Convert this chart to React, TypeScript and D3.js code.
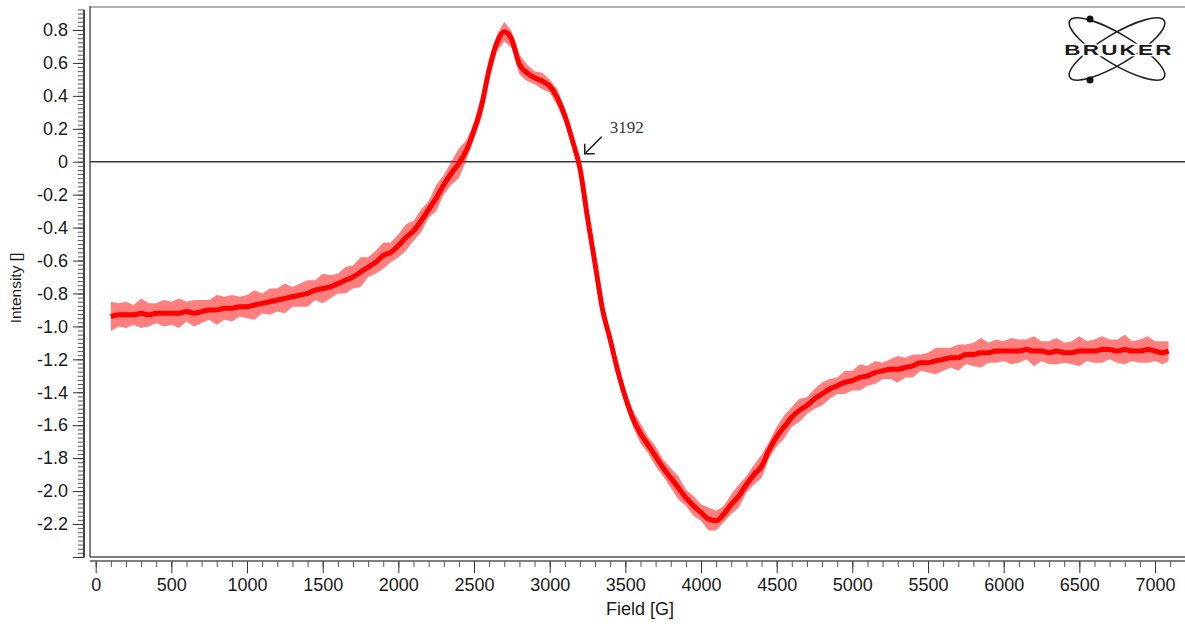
import * as d3 from "d3";
import { useEffect, useRef } from "react";

// ---- data ----
const field = [
  100, 150, 200, 250, 300, 350, 400, 450, 500, 550,
  600, 650, 700, 750, 800, 850, 900, 950, 1000, 1050,
  1100, 1150, 1200, 1250, 1300, 1350, 1400, 1450, 1500, 1550,
  1600, 1650, 1700, 1750, 1800, 1850, 1900, 1950, 2000, 2050,
  2100, 2150, 2200, 2250, 2300, 2350, 2400, 2450, 2500, 2550,
  2600, 2650, 2700, 2750, 2800, 2850, 2900, 2950, 3000, 3050,
  3100, 3150, 3200, 3250, 3300, 3350, 3400, 3450, 3500, 3550,
  3600, 3650, 3700, 3750, 3800, 3850, 3900, 3950, 4000, 4050,
  4100, 4150, 4200, 4250, 4300, 4350, 4400, 4450, 4500, 4550,
  4600, 4650, 4700, 4750, 4800, 4850, 4900, 4950, 5000, 5050,
  5100, 5150, 5200, 5250, 5300, 5350, 5400, 5450, 5500, 5550,
  5600, 5650, 5700, 5750, 5800, 5850, 5900, 5950, 6000, 6050,
  6100, 6150, 6200, 6250, 6300, 6350, 6400, 6450, 6500, 6550,
  6600, 6650, 6700, 6750, 6800, 6850, 6900, 6950, 7000, 7050,
  7090,
];

const intensity = [
  -0.94, -0.93, -0.93, -0.93, -0.92, -0.93, -0.92, -0.92, -0.92, -0.92,
  -0.91, -0.92, -0.91, -0.9, -0.9, -0.89, -0.89, -0.88, -0.88, -0.87,
  -0.86, -0.85, -0.84, -0.83, -0.82, -0.81, -0.8, -0.78, -0.77, -0.76,
  -0.74, -0.72, -0.7, -0.67, -0.64, -0.61, -0.57, -0.55, -0.51, -0.46,
  -0.42, -0.36, -0.29, -0.22, -0.14, -0.07, -0.01, 0.07, 0.19, 0.34,
  0.56, 0.72, 0.79, 0.74, 0.59, 0.54, 0.51, 0.49, 0.46, 0.39,
  0.28, 0.13, -0.04, -0.34, -0.62, -0.9, -1.08, -1.27, -1.43, -1.56,
  -1.65, -1.72, -1.79, -1.86, -1.92, -1.98, -2.04, -2.09, -2.13, -2.17,
  -2.18, -2.14, -2.08, -2.03, -1.96, -1.9, -1.85, -1.75, -1.67, -1.61,
  -1.55, -1.51, -1.48, -1.44, -1.41, -1.38, -1.36, -1.34, -1.33, -1.31,
  -1.3, -1.28, -1.27, -1.26, -1.26, -1.25, -1.24, -1.22, -1.22, -1.21,
  -1.2, -1.19, -1.19, -1.17, -1.17, -1.16, -1.16, -1.15, -1.15, -1.15,
  -1.15, -1.14, -1.15, -1.15, -1.16, -1.15, -1.16, -1.16, -1.15, -1.15,
  -1.15, -1.14, -1.14, -1.15, -1.14, -1.15, -1.15, -1.14, -1.15, -1.16,
  -1.15,
];

// half width of the noise band around the signal
const spread = [
  0.09, 0.07, 0.08, 0.06, 0.09, 0.07, 0.06, 0.08, 0.07, 0.09,
  0.06, 0.08, 0.07, 0.06, 0.09, 0.07, 0.08, 0.06, 0.07, 0.09,
  0.06, 0.08, 0.07, 0.09, 0.06, 0.07, 0.08, 0.06, 0.09, 0.07,
  0.06, 0.08, 0.07, 0.09, 0.06, 0.07, 0.08, 0.06, 0.07, 0.08,
  0.06, 0.07, 0.05, 0.08, 0.06, 0.07, 0.09, 0.06, 0.05, 0.07,
  0.06, 0.05, 0.06, 0.05, 0.06, 0.05, 0.04, 0.05, 0.04, 0.05,
  0.04, 0.04, 0.03, 0.04, 0.04, 0.05, 0.04, 0.05, 0.04, 0.05,
  0.06, 0.05, 0.06, 0.05, 0.06, 0.07, 0.05, 0.06, 0.05, 0.07,
  0.06, 0.05, 0.06, 0.07, 0.05, 0.06, 0.07, 0.05, 0.06, 0.07,
  0.06, 0.07, 0.05, 0.06, 0.07, 0.06, 0.05, 0.07, 0.06, 0.08,
  0.06, 0.07, 0.05, 0.06, 0.08, 0.06, 0.07, 0.05, 0.06, 0.08,
  0.07, 0.06, 0.08, 0.06, 0.07, 0.09, 0.06, 0.07, 0.06, 0.08,
  0.07, 0.06, 0.09, 0.06, 0.07, 0.08, 0.06, 0.07, 0.09, 0.06,
  0.07, 0.08, 0.06, 0.07, 0.09, 0.06, 0.07, 0.08, 0.06, 0.07,
  0.06,
];

const yTickValues = [0.8, 0.6, 0.4, 0.2, 0, -0.2, -0.4, -0.6, -0.8, -1.0, -1.2, -1.4, -1.6, -1.8, -2.0, -2.2, -2.4];
const yTickLabels = ["0.8", "0.6", "0.4", "0.2", "0", "-0.2", "-0.4", "-0.6", "-0.8", "-1.0", "-1.2", "-1.4", "-1.6", "-1.8", "-2.0", "-2.2", ""];
const xTickValues = [0, 500, 1000, 1500, 2000, 2500, 3000, 3500, 4000, 4500, 5000, 5500, 6000, 6500, 7000];

const markerField = 3192;
const markerLabel = "3192";

export default function App() {
  const ref = useRef(null);

  useEffect(() => {
    const width = 1185;
    const height = 624;
    const frame = { left: 90, top: 7, right: 1185, bottom: 557 };
    const font = "'Liberation Sans', Arial, sans-serif";

    d3.select(ref.current).selectAll("*").remove();
    const svg = d3.select(ref.current).attr("width", width).attr("height", height);

    // ---- scales ----
    const x = d3.scaleLinear().domain([0, 7000]).range([95.7, 1155]);
    const y = d3.scaleLinear().domain([0.8, -2.2]).range([30, 524]);

    svg.append("rect").attr("width", width).attr("height", height).attr("fill", "#fff");

    // ---- clip for the trace ----
    svg.append("defs").append("clipPath").attr("id", "plotClip")
      .append("rect")
      .attr("x", frame.left).attr("y", frame.top)
      .attr("width", frame.right - frame.left).attr("height", frame.bottom - frame.top);

    // ---- frame ----
    svg.append("line")
      .attr("x1", frame.left).attr("x2", frame.right)
      .attr("y1", frame.top).attr("y2", frame.top)
      .attr("stroke", "#b4b4b4").attr("stroke-width", 2);
    svg.append("line")
      .attr("x1", frame.left).attr("x2", frame.left)
      .attr("y1", frame.top - 1).attr("y2", frame.bottom)
      .attr("stroke", "#555").attr("stroke-width", 1.5);
    svg.append("line")
      .attr("x1", frame.left).attr("x2", frame.right)
      .attr("y1", frame.bottom).attr("y2", frame.bottom)
      .attr("stroke", "#555").attr("stroke-width", 1.5);

    // ---- zero line ----
    svg.append("line")
      .attr("x1", frame.left).attr("x2", frame.right)
      .attr("y1", y(0)).attr("y2", y(0))
      .attr("stroke", "#3a3a3a").attr("stroke-width", 1.4);

    // ---- y axis ----
    const yAxisX = 84;
    const yMinor = d3.range(-2.4, 0.94, 0.025);
    svg.append("g")
      .attr("transform", `translate(${yAxisX},0)`)
      .call(d3.axisLeft(y).tickValues(yMinor).tickSize(6).tickFormat(() => ""))
      .call((g) => g.select(".domain").remove())
      .call((g) => g.selectAll("line").attr("stroke", "#555"));
    svg.append("g")
      .attr("transform", `translate(${yAxisX},0)`)
      .call(
        d3.axisLeft(y).tickValues(yTickValues).tickSize(11).tickPadding(5)
          .tickFormat((d, i) => yTickLabels[i])
      )
      .call((g) => g.select(".domain").remove())
      .call((g) => g.selectAll("line").attr("stroke", "#333"))
      .call((g) =>
        g.selectAll("text").attr("font-family", font).attr("font-size", 18).attr("fill", "#1a1a1a")
      );
    svg.append("line")
      .attr("x1", yAxisX).attr("x2", yAxisX)
      .attr("y1", frame.top + 3).attr("y2", frame.bottom)
      .attr("stroke", "#444").attr("stroke-width", 2);

    svg.append("text")
      .attr("transform", `translate(21,288) rotate(-90)`)
      .attr("text-anchor", "middle")
      .attr("font-family", font).attr("font-size", 15.5).attr("fill", "#1a1a1a")
      .text("Intensity []");

    // ---- x axis ----
    const xAxisY = 561;
    const xMinor = d3.range(0, 7200, 100);
    svg.append("g")
      .attr("transform", `translate(0,${xAxisY})`)
      .call(d3.axisBottom(x).tickValues(xMinor).tickSize(6).tickFormat(() => ""))
      .call((g) => g.select(".domain").remove())
      .call((g) => g.selectAll("line").attr("stroke", "#555"));
    svg.append("g")
      .attr("transform", `translate(0,${xAxisY})`)
      .call(d3.axisBottom(x).tickValues(xTickValues).tickSize(12).tickPadding(5).tickFormat(d3.format("d")))
      .call((g) => g.select(".domain").remove())
      .call((g) => g.selectAll("line").attr("stroke", "#333"))
      .call((g) =>
        g.selectAll("text").attr("font-family", font).attr("font-size", 18).attr("fill", "#1a1a1a")
      );
    svg.append("line")
      .attr("x1", frame.left).attr("x2", frame.right)
      .attr("y1", xAxisY).attr("y2", xAxisY)
      .attr("stroke", "#555").attr("stroke-width", 1.5);

    svg.append("text")
      .attr("x", 640).attr("y", 615)
      .attr("text-anchor", "middle")
      .attr("font-family", font).attr("font-size", 18).attr("fill", "#1a1a1a")
      .text("Field [G]");

    // ---- trace ----
    const pts = field.map((f, i) => ({ f, v: intensity[i], s: spread[i] }));
    const plot = svg.append("g").attr("clip-path", "url(#plotClip)");

    const band = d3.area()
      .x((d) => x(d.f))
      .y0((d) => y(d.v - d.s))
      .y1((d) => y(d.v + d.s));
    plot.append("path")
      .datum(pts)
      .attr("d", band)
      .attr("fill", "#ff0000")
      .attr("fill-opacity", 0.5);

    const core = d3.line()
      .x((d) => x(d.f))
      .y((d) => y(d.v))
      .curve(d3.curveMonotoneX);
    plot.append("path")
      .datum(pts)
      .attr("d", core)
      .attr("fill", "none")
      .attr("stroke", "#ff0000")
      .attr("stroke-width", 5)
      .attr("stroke-linejoin", "round");

    // ---- marker annotation ----
    const mx = x(markerField);
    const my = y(0);
    const ann = svg.append("g").attr("stroke", "#1a1a1a").attr("stroke-width", 1.5).attr("fill", "none");
    ann.append("line")
      .attr("x1", mx + 23).attr("y1", my - 25)
      .attr("x2", mx + 7).attr("y2", my - 9);
    ann.append("path")
      .attr("d", `M${mx + 6},${my - 18} L${mx + 6},${my - 8} L${mx + 16},${my - 8}`);
    svg.append("text")
      .attr("x", mx + 31).attr("y", my - 29)
      .attr("font-family", "'Liberation Serif', 'DejaVu Serif', serif")
      .attr("font-size", 17).attr("fill", "#333")
      .text(markerLabel);

    // ---- logo ----
    const logo = svg.append("g").attr("transform", "translate(1117,49)");
    [-31, 31].forEach((a) => {
      logo.append("ellipse")
        .attr("rx", 55).attr("ry", 15)
        .attr("transform", `rotate(${a})`)
        .attr("fill", "none")
        .attr("stroke", "#222")
        .attr("stroke-width", 1.6);
    });
    logo.append("circle").attr("cx", -27).attr("cy", -30).attr("r", 3.5).attr("fill", "#111");
    logo.append("circle").attr("cx", -27).attr("cy", 31).attr("r", 3.5).attr("fill", "#111");
    logo.append("text")
      .attr("transform", "translate(2,6) scale(1.5,1)")
      .attr("text-anchor", "middle")
      .attr("font-family", font).attr("font-weight", 700).attr("font-size", 15)
      .attr("letter-spacing", 1.5)
      .attr("fill", "#1a1a1a")
      .attr("stroke", "#fff").attr("stroke-width", 2.5).attr("paint-order", "stroke")
      .text("BRUKER");
  }, []);

  return (
    <svg
      ref={ref}
      style={{ position: "absolute", left: 0, top: 0, display: "block" }}
    />
  );
}
